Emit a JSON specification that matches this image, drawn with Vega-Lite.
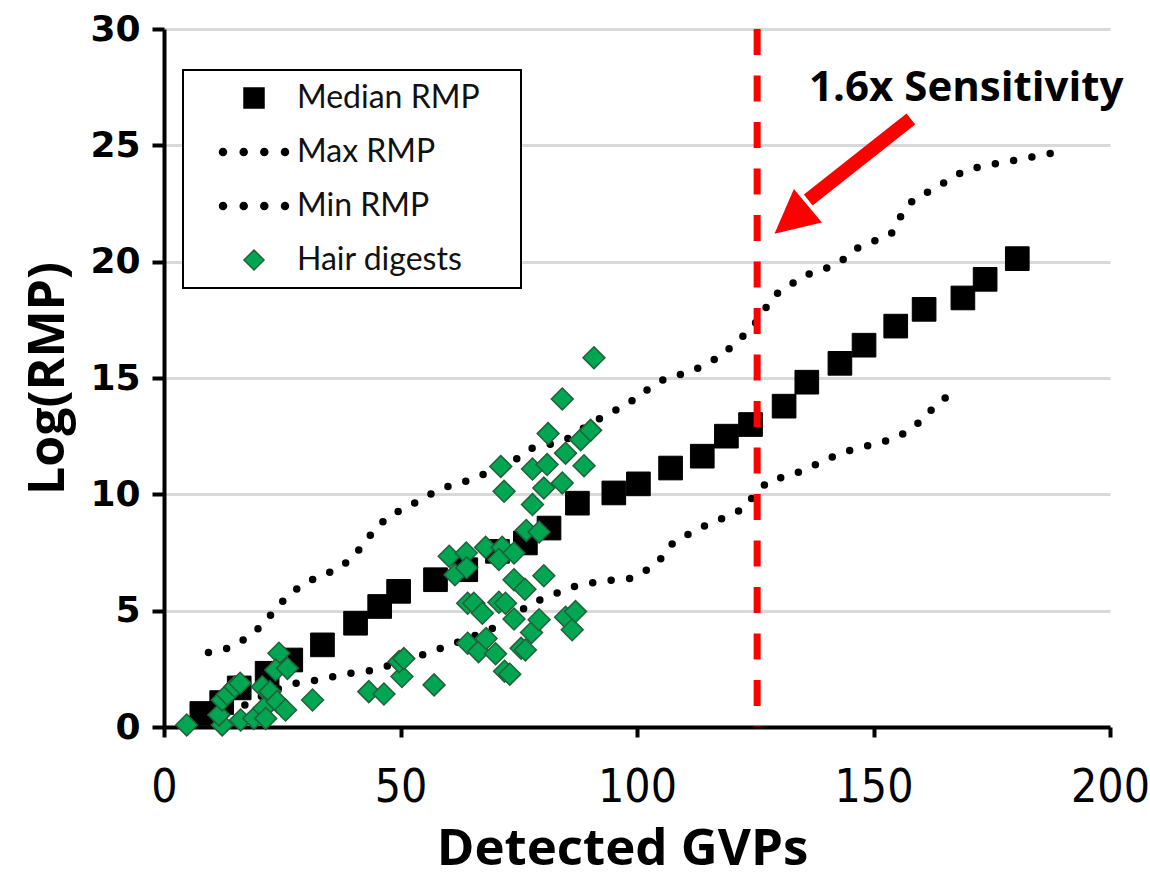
{
  "$schema": "https://vega.github.io/schema/vega-lite/v6.json",
  "width": 946,
  "height": 698,
  "autosize": "none",
  "padding": {"left": 164, "top": 29, "right": 40, "bottom": 151},
  "background": "white",
  "config": {
    "view": {"stroke": null},
    "legend": {
      "orient": "none",
      "legendX": 19,
      "legendY": 41,
      "strokeColor": "black",
      "strokeWidth": 2,
      "fillColor": "white",
      "padding": 12,
      "symbolOffset": 43,
      "labelOffset": 27,
      "symbolSize": 400,
      "symbolStrokeWidth": 1.5,
      "labelFont": "Lato",
      "labelFontSize": 32,
      "labelColor": "#111",
      "labelLimit": 400,
      "rowPadding": 22,
      "title": null
    }
  },
  "encoding": {
    "x": {
      "field": "x",
      "type": "quantitative",
      "scale": {"domain": [0, 200], "nice": false, "zero": false},
      "axis": {
        "values": [0, 50, 100, 150, 200],
        "grid": false,
        "domainColor": "black",
        "domainWidth": 4,
        "tickColor": "black",
        "tickWidth": 4,
        "tickSize": 10,
        "labelFont": "Liberation Sans Narrow, DejaVu Sans Condensed, Roboto",
        "labelFontSize": 46,
        "labelColor": "black",
        "labelPadding": 28,
        "labelFlush": false,
        "labelOverlap": false,
        "title": "Detected GVPs",
        "titleFont": "Open Sans",
        "titleFontWeight": "bold",
        "titleFontSize": 51,
        "titleColor": "black",
        "titleX": 458,
        "titleAlign": "center",
        "titlePadding": 14
      }
    },
    "y": {
      "field": "y",
      "type": "quantitative",
      "scale": {"domain": [0, 30], "nice": false},
      "axis": {
        "values": [0, 5, 10, 15, 20, 25, 30],
        "grid": true,
        "gridColor": "#d9d9d9",
        "gridWidth": 3,
        "domainColor": "black",
        "domainWidth": 4,
        "tickColor": "black",
        "tickWidth": 4,
        "tickSize": 12,
        "labelFont": "DejaVu Sans",
        "labelFontWeight": "bold",
        "labelFontSize": 36,
        "labelColor": "black",
        "labelPadding": 12,
        "labelFlush": false,
        "labelOverlap": false,
        "title": "Log(RMP)",
        "titleFont": "Open Sans",
        "titleFontWeight": "bold",
        "titleFontSize": 50,
        "titleColor": "black",
        "titlePadding": 16
      }
    }
  },
  "layer": [
    {
      "data": {"values": [
        {"x": 9.4, "y": 3.2}, {"x": 13.4, "y": 3.38}, {"x": 17.1, "y": 3.78}, {"x": 20.3, "y": 4.29},
        {"x": 23.0, "y": 4.92}, {"x": 25.8, "y": 5.57}, {"x": 29.0, "y": 6.08}, {"x": 32.6, "y": 6.47},
        {"x": 36.5, "y": 6.76}, {"x": 39.6, "y": 7.23}, {"x": 42.4, "y": 7.91}, {"x": 44.9, "y": 8.58},
        {"x": 48.1, "y": 9.13}, {"x": 51.7, "y": 9.48}, {"x": 55.4, "y": 9.91}, {"x": 58.9, "y": 10.27},
        {"x": 62.9, "y": 10.49}, {"x": 66.5, "y": 10.77}, {"x": 70.3, "y": 11.1}, {"x": 74.3, "y": 11.49},
        {"x": 77.7, "y": 11.97}, {"x": 81.5, "y": 12.14}, {"x": 85.2, "y": 12.38}, {"x": 88.8, "y": 12.86},
        {"x": 92.3, "y": 13.28}, {"x": 96.0, "y": 13.67}, {"x": 99.6, "y": 14.1}, {"x": 103.1, "y": 14.64},
        {"x": 106.6, "y": 15.04}, {"x": 110.5, "y": 15.2}, {"x": 114.2, "y": 15.55}, {"x": 117.9, "y": 15.97},
        {"x": 120.8, "y": 16.51}, {"x": 124.0, "y": 17.09}, {"x": 126.5, "y": 17.76}, {"x": 128.6, "y": 18.49},
        {"x": 132.0, "y": 18.95}, {"x": 135.6, "y": 19.42}, {"x": 139.5, "y": 19.67}, {"x": 143.2, "y": 20.03},
        {"x": 146.2, "y": 20.55}, {"x": 150.1, "y": 20.88}, {"x": 153.8, "y": 21.21}, {"x": 155.8, "y": 21.96},
        {"x": 158.3, "y": 22.63}, {"x": 161.9, "y": 23.04}, {"x": 165.6, "y": 23.47}, {"x": 169.1, "y": 23.89},
        {"x": 173.0, "y": 24.11}, {"x": 177.1, "y": 24.25}, {"x": 181.1, "y": 24.4}, {"x": 185.2, "y": 24.57},
        {"x": 189.3, "y": 24.72}
      ]},
      "mark": {"type": "line", "color": "black", "strokeWidth": 7.5, "strokeCap": "round", "strokeDash": [0, 18.6]}
    },
    {
      "data": {"values": [
        {"x": 17.1, "y": 0.95}, {"x": 20.6, "y": 1.32}, {"x": 24.3, "y": 1.66}, {"x": 28.4, "y": 1.91},
        {"x": 32.6, "y": 2.02}, {"x": 36.5, "y": 2.2}, {"x": 40.5, "y": 2.35}, {"x": 44.7, "y": 2.45},
        {"x": 49.0, "y": 2.74}, {"x": 52.7, "y": 2.95}, {"x": 56.4, "y": 3.24}, {"x": 60.3, "y": 3.5},
        {"x": 64.0, "y": 3.8}, {"x": 67.9, "y": 4.1}, {"x": 71.5, "y": 4.41}, {"x": 75.1, "y": 4.96},
        {"x": 78.2, "y": 5.36}, {"x": 82.2, "y": 5.68}, {"x": 86.1, "y": 6.01}, {"x": 90.1, "y": 6.18},
        {"x": 94.2, "y": 6.3}, {"x": 98.3, "y": 6.37}, {"x": 102.2, "y": 6.76}, {"x": 105.1, "y": 7.25},
        {"x": 107.7, "y": 7.94}, {"x": 111.3, "y": 8.33}, {"x": 115.0, "y": 8.72}, {"x": 118.7, "y": 9.02},
        {"x": 122.5, "y": 9.38}, {"x": 125.1, "y": 10.05}, {"x": 128.1, "y": 10.63}, {"x": 132.1, "y": 10.78},
        {"x": 136.0, "y": 11.11}, {"x": 139.7, "y": 11.47}, {"x": 143.6, "y": 11.81}, {"x": 147.5, "y": 12.03},
        {"x": 151.5, "y": 12.21}, {"x": 155.4, "y": 12.5}, {"x": 158.8, "y": 12.93}, {"x": 161.7, "y": 13.53},
        {"x": 165.5, "y": 14.2}
      ]},
      "mark": {"type": "line", "color": "black", "strokeWidth": 7.5, "strokeCap": "round", "strokeDash": [0, 18.6]}
    },
    {
      "data": {"values": [
        {"series": "Median RMP", "x": 8.0, "y": 0.58}, {"series": "Median RMP", "x": 12.2, "y": 1.05},
        {"series": "Median RMP", "x": 15.9, "y": 1.68}, {"series": "Median RMP", "x": 21.8, "y": 2.31},
        {"series": "Median RMP", "x": 26.8, "y": 2.88}, {"series": "Median RMP", "x": 33.5, "y": 3.53},
        {"series": "Median RMP", "x": 40.5, "y": 4.46}, {"series": "Median RMP", "x": 45.6, "y": 5.18},
        {"series": "Median RMP", "x": 49.6, "y": 5.83}, {"series": "Median RMP", "x": 57.4, "y": 6.33},
        {"series": "Median RMP", "x": 63.8, "y": 6.76}, {"series": "Median RMP", "x": 70.5, "y": 7.55},
        {"series": "Median RMP", "x": 76.4, "y": 7.91}, {"series": "Median RMP", "x": 81.4, "y": 8.55},
        {"series": "Median RMP", "x": 87.4, "y": 9.62}, {"series": "Median RMP", "x": 95.1, "y": 10.06},
        {"series": "Median RMP", "x": 100.3, "y": 10.45}, {"series": "Median RMP", "x": 107.1, "y": 11.13},
        {"series": "Median RMP", "x": 113.8, "y": 11.64}, {"series": "Median RMP", "x": 118.9, "y": 12.5},
        {"series": "Median RMP", "x": 124.0, "y": 13.0}, {"series": "Median RMP", "x": 131.1, "y": 13.79},
        {"series": "Median RMP", "x": 135.9, "y": 14.82}, {"series": "Median RMP", "x": 142.9, "y": 15.63},
        {"series": "Median RMP", "x": 148.0, "y": 16.41}, {"series": "Median RMP", "x": 154.7, "y": 17.23},
        {"series": "Median RMP", "x": 160.7, "y": 17.95}, {"series": "Median RMP", "x": 168.9, "y": 18.44},
        {"series": "Median RMP", "x": 173.6, "y": 19.24}, {"series": "Median RMP", "x": 180.4, "y": 20.13}
      ]},
      "mark": {"type": "point", "filled": true, "size": 560, "opacity": 1, "strokeWidth": 1},
      "encoding": {
        "shape": {"field": "series", "type": "nominal", "scale": {"domain": ["Median RMP", "Max RMP", "Min RMP", "Hair digests"], "range": ["square", "M-3.45,0a0.35,0.35 0 1,0 0.7,0a0.35,0.35 0 1,0 -0.7,0ZM-1.38,0a0.35,0.35 0 1,0 0.7,0a0.35,0.35 0 1,0 -0.7,0ZM0.68,0a0.35,0.35 0 1,0 0.7,0a0.35,0.35 0 1,0 -0.7,0ZM2.75,0a0.35,0.35 0 1,0 0.7,0a0.35,0.35 0 1,0 -0.7,0ZM25.2,0", "M-3.45,0a0.35,0.35 0 1,0 0.7,0a0.35,0.35 0 1,0 -0.7,0ZM-1.38,0a0.35,0.35 0 1,0 0.7,0a0.35,0.35 0 1,0 -0.7,0ZM0.68,0a0.35,0.35 0 1,0 0.7,0a0.35,0.35 0 1,0 -0.7,0ZM2.75,0a0.35,0.35 0 1,0 0.7,0a0.35,0.35 0 1,0 -0.7,0Z", "diamond"]}},
        "fill": {"field": "series", "type": "nominal", "scale": {"domain": ["Median RMP", "Max RMP", "Min RMP", "Hair digests"], "range": ["#000000", "#000000", "#000000", "#00A651"]}},
        "stroke": {"field": "series", "type": "nominal", "scale": {"domain": ["Median RMP", "Max RMP", "Min RMP", "Hair digests"], "range": ["#000000", "#000000", "#000000", "#22603A"]}}
      }
    },
    {
      "data": {"values": [
        {"series": "Hair digests", "x": 4.8, "y": 0.09}, {"series": "Hair digests", "x": 12.3, "y": 0.09},
        {"series": "Hair digests", "x": 11.6, "y": 0.52}, {"series": "Hair digests", "x": 12.3, "y": 1.16},
        {"series": "Hair digests", "x": 13.4, "y": 1.4}, {"series": "Hair digests", "x": 15.0, "y": 1.73},
        {"series": "Hair digests", "x": 16.1, "y": 1.88}, {"series": "Hair digests", "x": 16.2, "y": 0.3},
        {"series": "Hair digests", "x": 19.0, "y": 0.37}, {"series": "Hair digests", "x": 20.8, "y": 1.73},
        {"series": "Hair digests", "x": 22.4, "y": 1.52}, {"series": "Hair digests", "x": 21.1, "y": 0.8},
        {"series": "Hair digests", "x": 21.5, "y": 0.37}, {"series": "Hair digests", "x": 23.9, "y": 1.09},
        {"series": "Hair digests", "x": 25.7, "y": 0.73}, {"series": "Hair digests", "x": 24.3, "y": 3.17},
        {"series": "Hair digests", "x": 23.6, "y": 2.45}, {"series": "Hair digests", "x": 26.1, "y": 2.52},
        {"series": "Hair digests", "x": 31.4, "y": 1.16}, {"series": "Hair digests", "x": 43.3, "y": 1.52},
        {"series": "Hair digests", "x": 46.5, "y": 1.42}, {"series": "Hair digests", "x": 50.3, "y": 2.17},
        {"series": "Hair digests", "x": 49.7, "y": 2.81}, {"series": "Hair digests", "x": 50.7, "y": 2.94},
        {"series": "Hair digests", "x": 57.1, "y": 1.81}, {"series": "Hair digests", "x": 64.2, "y": 3.6},
        {"series": "Hair digests", "x": 66.5, "y": 3.24}, {"series": "Hair digests", "x": 68.1, "y": 3.8},
        {"series": "Hair digests", "x": 70.1, "y": 3.15}, {"series": "Hair digests", "x": 72.0, "y": 2.4},
        {"series": "Hair digests", "x": 73.1, "y": 2.27}, {"series": "Hair digests", "x": 75.5, "y": 3.38},
        {"series": "Hair digests", "x": 76.4, "y": 3.31}, {"series": "Hair digests", "x": 77.7, "y": 4.06},
        {"series": "Hair digests", "x": 79.3, "y": 4.61}, {"series": "Hair digests", "x": 84.9, "y": 4.72},
        {"series": "Hair digests", "x": 86.3, "y": 4.18}, {"series": "Hair digests", "x": 87.0, "y": 4.96},
        {"series": "Hair digests", "x": 64.2, "y": 5.32}, {"series": "Hair digests", "x": 65.5, "y": 5.32},
        {"series": "Hair digests", "x": 67.3, "y": 4.89}, {"series": "Hair digests", "x": 70.8, "y": 5.36},
        {"series": "Hair digests", "x": 72.2, "y": 5.32}, {"series": "Hair digests", "x": 74.0, "y": 4.64},
        {"series": "Hair digests", "x": 74.0, "y": 6.33}, {"series": "Hair digests", "x": 76.3, "y": 5.92},
        {"series": "Hair digests", "x": 80.3, "y": 6.5}, {"series": "Hair digests", "x": 60.3, "y": 7.34},
        {"series": "Hair digests", "x": 63.9, "y": 7.48}, {"series": "Hair digests", "x": 61.5, "y": 6.54},
        {"series": "Hair digests", "x": 64.0, "y": 6.84}, {"series": "Hair digests", "x": 68.0, "y": 7.72},
        {"series": "Hair digests", "x": 71.5, "y": 7.72}, {"series": "Hair digests", "x": 70.8, "y": 7.2},
        {"series": "Hair digests", "x": 74.0, "y": 7.48}, {"series": "Hair digests", "x": 76.6, "y": 8.45},
        {"series": "Hair digests", "x": 79.3, "y": 8.38}, {"series": "Hair digests", "x": 77.9, "y": 9.56},
        {"series": "Hair digests", "x": 71.9, "y": 10.13}, {"series": "Hair digests", "x": 80.3, "y": 10.27},
        {"series": "Hair digests", "x": 84.2, "y": 10.49}, {"series": "Hair digests", "x": 71.2, "y": 11.2},
        {"series": "Hair digests", "x": 77.9, "y": 11.09}, {"series": "Hair digests", "x": 81.0, "y": 11.28},
        {"series": "Hair digests", "x": 88.8, "y": 11.23}, {"series": "Hair digests", "x": 84.9, "y": 11.77},
        {"series": "Hair digests", "x": 88.1, "y": 12.35}, {"series": "Hair digests", "x": 90.2, "y": 12.75},
        {"series": "Hair digests", "x": 81.2, "y": 12.61}, {"series": "Hair digests", "x": 84.2, "y": 14.1},
        {"series": "Hair digests", "x": 90.9, "y": 15.87}
      ]},
      "mark": {"type": "point", "filled": true, "size": 480, "opacity": 1, "strokeWidth": 1.5},
      "encoding": {
        "shape": {"field": "series", "type": "nominal"},
        "fill": {"field": "series", "type": "nominal"},
        "stroke": {"field": "series", "type": "nominal"}
      }
    },
    {
      "data": {"values": [{"x": 125.4, "y": 30, "y2": 0}]},
      "mark": {"type": "rule", "color": "#FF0000", "strokeWidth": 7, "strokeDash": [26, 20.5]},
      "encoding": {"y2": {"field": "y2"}}
    },
    {
      "data": {"values": [{"x": 157.9, "y": 26.13, "x2": 136.2, "y2": 22.65}]},
      "mark": {"type": "rule", "color": "#FF0000", "strokeWidth": 14, "strokeCap": "butt"},
      "encoding": {"x2": {"field": "x2"}, "y2": {"field": "y2"}}
    },
    {
      "data": {"values": [{"x": 132.6, "y": 21.8}]},
      "mark": {"type": "point", "shape": "M0,-1L1,1L-1,1Z", "size": 1900, "angle": 230, "filled": true, "color": "#FF0000", "opacity": 1, "strokeWidth": 0}
    },
    {
      "data": {"values": [{"x": 169.6, "y": 26.9, "label": "1.6x Sensitivity"}]},
      "mark": {"type": "text", "font": "Open Sans", "fontWeight": "bold", "fontSize": 42, "color": "black", "align": "center", "baseline": "alphabetic"},
      "encoding": {"text": {"field": "label"}}
    }
  ]
}
